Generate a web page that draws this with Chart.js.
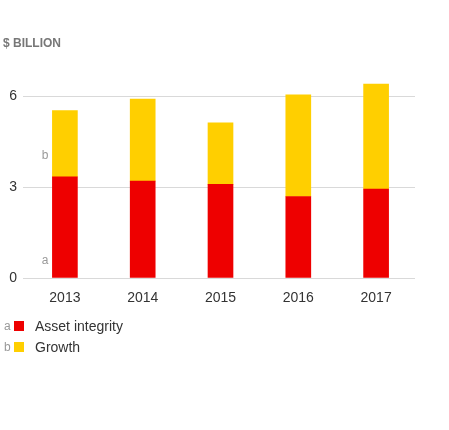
<!DOCTYPE html>
<html>
<head>
<meta charset="utf-8">
<script src="https://cdn.jsdelivr.net/npm/chart.js@4"></script>
<style>
  html, body { margin: 0; padding: 0; background: #fff; }
  #wrap { position: relative; width: 449px; height: 430px; font-family: "Liberation Sans", Arial, sans-serif; }
  #c { position: absolute; left: 0; top: 0; }
  .title { position: absolute; left: 3px; top: 36px; font-size: 12px; font-weight: bold; color: #777; }
  .leg { position: absolute; left: 0; height: 20px; line-height: 20px; font-size: 14px; color: #333; }
  .leg .ltr { position: absolute; left: 4px; top: 0; font-size: 12px; color: #999; }
  .leg .sw { position: absolute; left: 14px; top: 5px; width: 10px; height: 10px; }
  .leg .txt { position: absolute; left: 35px; top: 0; white-space: nowrap; }
</style>
</head>
<body>
<div id="wrap">
  <canvas id="c" width="449" height="430"></canvas>
  <div class="title">$ BILLION</div>
  <div id="legend"></div>
</div>
<script>
const categories = ["2013", "2014", "2015", "2016", "2017"];
const assetIntegrity = [3.34, 3.20, 3.09, 2.69, 2.94];
const growth = [2.19, 2.71, 2.03, 3.36, 3.46];
const yTicks = [0, 3, 6];
const seriesNames = ["Asset integrity", "Growth"];
const seriesLetters = ["a", "b"];
const colors = ["#EE0000", "#FFCF00"];

// legend
const legend = document.getElementById('legend');
seriesNames.forEach((n, i) => {
  const d = document.createElement('div');
  d.className = 'leg';
  d.style.top = (316 + i * 20.5) + 'px';
  d.innerHTML = '<span class="ltr">' + seriesLetters[i] + '</span><span class="sw" style="background:' + colors[i] + '"></span><span class="txt">' + n + '</span>';
  legend.appendChild(d);
});

const letterPlugin = {
  id: 'letters',
  afterDatasetsDraw(chart) {
    const ctx = chart.ctx;
    const y = chart.scales.y;
    const meta0 = chart.getDatasetMeta(0).data[0];
    const x = meta0.x - 12.5 - 8;
    ctx.save();
    ctx.font = '12px "Liberation Sans", Arial, sans-serif';
    ctx.fillStyle = '#999';
    ctx.textAlign = 'right';
    ctx.textBaseline = 'middle';
    ctx.fillText(seriesLetters[0], x + 4, y.getPixelForValue(0) - 17);
    ctx.fillText(seriesLetters[1], x + 4, y.getPixelForValue(assetIntegrity[0]) - 21);
    ctx.restore();
  }
};

new Chart(document.getElementById('c'), {
  type: 'bar',
  data: {
    labels: categories,
    datasets: [
      { label: seriesNames[0], data: assetIntegrity, backgroundColor: colors[0], barThickness: 25 },
      { label: seriesNames[1], data: growth, backgroundColor: colors[1], barThickness: 25 }
    ]
  },
  options: {
    responsive: false,
    animation: false,
    devicePixelRatio: 1,
    layout: { padding: { top: 66, right: 34, left: 0, bottom: 0 } },
    plugins: { legend: { display: false }, tooltip: { enabled: false } },
    scales: {
      x: {
        stacked: true,
        grid: { display: false },
        border: { display: false },
        ticks: { color: '#333', font: { size: 14, family: '"Liberation Sans", Arial, sans-serif' }, padding: 4 },
        afterFit(s) { s.height = 430 - 278; }
      },
      y: {
        stacked: true,
        min: 0,
        max: 7,
        afterBuildTicks(s) { s.ticks = yTicks.map(v => ({ value: v })); },
        grid: { color: '#d9d9d9', lineWidth: 1, drawTicks: true, tickLength: 3, tickColor: '#d9d9d9' },
        border: { display: false },
        ticks: { color: '#333', font: { size: 14, family: '"Liberation Sans", Arial, sans-serif' }, padding: 6 },
        afterFit(s) { s.width = 26; }
      }
    }
  },
  plugins: [letterPlugin]
});
</script>
</body>
</html>
